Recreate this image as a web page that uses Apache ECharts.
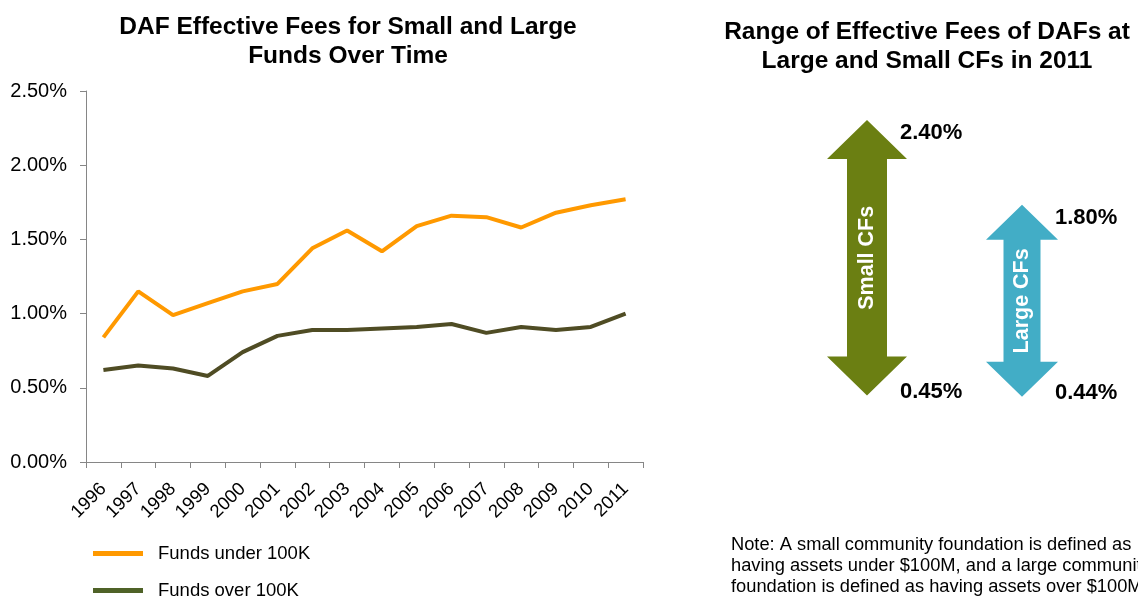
<!DOCTYPE html>
<html>
<head>
<meta charset="utf-8">
<script src="https://cdn.jsdelivr.net/npm/echarts@6/dist/echarts.min.js"></script>
<style>
  html, body { margin: 0; padding: 0; background: #fff; }
  #chart { width: 1138px; height: 601px; }
</style>
</head>
<body>
<div id="chart"></div>
<script>
// Effective fee history (percent), 1996-2011
const years = ['1996','1997','1998','1999','2000','2001','2002','2003','2004','2005','2006','2007','2008','2009','2010','2011'];
const fundsUnder100K = [0.84, 1.15, 0.99, 1.07, 1.15, 1.20, 1.44, 1.56, 1.42, 1.59, 1.66, 1.65, 1.58, 1.68, 1.73, 1.77];
const fundsOver100K  = [0.62, 0.65, 0.63, 0.58, 0.74, 0.85, 0.89, 0.89, 0.90, 0.91, 0.93, 0.87, 0.91, 0.89, 0.91, 1.00];
const yTicks = [0, 0.5, 1.0, 1.5, 2.0, 2.5];

// 2011 fee ranges by community foundation size (percent)
const rangeNames = ['Small CFs', 'Large CFs'];
const rangeLow  = [0.45, 0.44];
const rangeHigh = [2.40, 1.80];

// Arrow drawing styles
const arrowStyles = [
  { color: '#6B7F12', headHalf: 40, headLen: 39, shaftHalf: 20 },
  { color: '#42ADC6', headHalf: 36, headLen: 35, shaftHalf: 18.5 }
];

const FONT = '"Liberation Sans", Arial, sans-serif';
const chart = echarts.init(document.getElementById('chart'));

const rangeData = rangeNames.map((n, i) => [i, rangeLow[i], rangeHigh[i]]);

function renderArrow(params, api) {
  const i = params.dataIndex;
  const st = arrowStyles[i];
  const top = api.coord([api.value(0), api.value(2)]);
  const bot = api.coord([api.value(0), api.value(1)]);
  const x = top[0], yt = top[1], yb = bot[1];
  const pts = [
    [x, yt], [x + st.headHalf, yt + st.headLen], [x + st.shaftHalf, yt + st.headLen],
    [x + st.shaftHalf, yb - st.headLen], [x + st.headHalf, yb - st.headLen], [x, yb],
    [x - st.headHalf, yb - st.headLen], [x - st.shaftHalf, yb - st.headLen],
    [x - st.shaftHalf, yt + st.headLen], [x - st.headHalf, yt + st.headLen]
  ];
  const fmt = v => v.toFixed(2) + '%';
  return {
    type: 'group',
    children: [
      { type: 'polygon', shape: { points: pts }, style: { fill: st.color } },
      {
        type: 'text', x: x, y: (yt + yb) / 2, rotation: Math.PI / 2,
        style: { text: rangeNames[i], fill: '#fff', font: 'bold 21.5px ' + FONT, align: 'center', verticalAlign: 'middle' }
      },
      {
        type: 'text', x: x + 33, y: yt + 13,
        style: { text: fmt(api.value(2)), fill: '#000', font: 'bold 22px ' + FONT, align: 'left', verticalAlign: 'middle' }
      },
      {
        type: 'text', x: x + 33, y: yb - 4,
        style: { text: fmt(api.value(1)), fill: '#000', font: 'bold 22px ' + FONT, align: 'left', verticalAlign: 'middle' }
      }
    ]
  };
}

const legendText = { fontSize: 18.5, color: '#000', fontFamily: FONT, padding: [0, 0, 0, 10] };

const option = {
  backgroundColor: '#fff',
  animation: false,
  textStyle: { fontFamily: FONT },
  title: [
    {
      text: 'DAF Effective Fees for Small and Large\nFunds Over Time',
      left: 343, top: 7, textAlign: 'center',
      textStyle: { fontSize: 24.5, fontWeight: 'bold', color: '#000', lineHeight: 29.5, fontFamily: FONT }
    },
    {
      text: 'Range of Effective Fees of DAFs at\nLarge and Small CFs in 2011',
      left: 922, top: 12, textAlign: 'center',
      textStyle: { fontSize: 24.5, fontWeight: 'bold', color: '#000', lineHeight: 29.5, fontFamily: FONT }
    }
  ],
  legend: [
    {
      left: 88, top: 539, itemWidth: 50, itemHeight: 5, textStyle: legendText,
      data: [{ name: 'Funds under 100K', icon: 'rect', itemStyle: { color: '#FF9900' } }]
    },
    {
      left: 88, top: 576, itemWidth: 50, itemHeight: 5, textStyle: legendText,
      data: [{ name: 'Funds over 100K', icon: 'rect', itemStyle: { color: '#4F6228' } }]
    }
  ],
  grid: [
    { left: 86, right: 495, top: 91, bottom: 139 },
    { left: 789.5, width: 310, top: 106, height: 353 }
  ],
  xAxis: [
    {
      type: 'category', gridIndex: 0, data: years, boundaryGap: true,
      axisLine: { lineStyle: { color: '#868686', width: 1 } },
      axisTick: { show: true, length: 6, lineStyle: { color: '#868686' } },
      axisLabel: { rotate: 45, fontSize: 18.5, color: '#000', margin: 24, interval: 0, fontFamily: FONT }
    },
    { type: 'category', gridIndex: 1, data: rangeNames, show: false }
  ],
  yAxis: [
    {
      type: 'value', gridIndex: 0, min: yTicks[0], max: yTicks[yTicks.length - 1], interval: 0.5,
      axisLine: { show: true, lineStyle: { color: '#868686', width: 1 } },
      axisTick: { show: true, length: 6, lineStyle: { color: '#868686' } },
      splitLine: { show: false },
      axisLabel: { fontSize: 20, color: '#000', margin: 19, formatter: v => v.toFixed(2) + '%', fontFamily: FONT }
    },
    { type: 'value', gridIndex: 1, min: 0, max: 2.5, show: false }
  ],
  series: [
    {
      name: 'Funds under 100K', type: 'line', xAxisIndex: 0, yAxisIndex: 0,
      data: fundsUnder100K, symbol: 'none', color: '#FF9900',
      lineStyle: { width: 4, color: '#FF9900' }
    },
    {
      name: 'Funds over 100K', type: 'line', xAxisIndex: 0, yAxisIndex: 0,
      data: fundsOver100K, symbol: 'none', color: '#4F4C24',
      lineStyle: { width: 4, color: '#4F4C24' }
    },
    {
      name: 'ranges', type: 'custom', xAxisIndex: 1, yAxisIndex: 1,
      data: rangeData, renderItem: renderArrow, silent: true
    }
  ],
  graphic: [
    {
      type: 'text', left: 731, top: 534,
      style: {
        text: 'Note: A small community foundation is defined as\nhaving assets under $100M, and a large community\nfoundation is defined as having assets over $100M',
        font: '18.3px ' + FONT, fill: '#000', lineHeight: 21
      }
    }
  ]
};

chart.setOption(option);
</script>
</body>
</html>
